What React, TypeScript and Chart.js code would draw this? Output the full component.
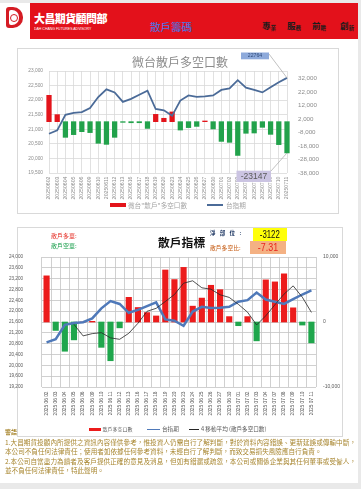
import React, { useEffect, useRef } from "react";
import { Chart, registerables } from "chart.js";
Chart.register(...registerables);

const CJK = "'Noto Sans CJK TC', 'Noto Sans CJK SC', sans-serif";
const NUM = "'Liberation Sans', 'Noto Sans CJK TC', sans-serif";

// ---------- data ----------
const dates = [
  "20250602", "20250603", "20250604", "20250605", "20250606", "20250609", "20250610", "20250611",
  "20250612", "20250613", "20250616", "20250617", "20250618", "20250619", "20250620", "20250623",
  "20250624", "20250625", "20250626", "20250627", "20250630", "20250701", "20250702", "20250703",
  "20250704", "20250707", "20250708", "20250709", "20250710", "20250711",
];
const dateLabels2 = [
  "2025 06 02", "2025 06 03", "2025 06 04", "2025 06 05", "2025 06 06", "2025 06 09", "2025 06 10", "2025 06 11",
  "2025 06 12", "2025 06 13", "2025 06 16", "2025 06 17", "2025 06 18", "2025 06 19", "2025 06 20", "2025 06 23",
  "2025 06 24", "2025 06 25", "2025 06 26", "2025 06 27", "2025 06 30", "2025 07 01", "2025 07 02", "2025 07 03",
  "2025 07 04", "2025 07 07", "2025 07 08", "2025 07 09", "2025 07 10", "2025 07 11",
];
// 台指期
const indexPrices = [
  20846, 20962, 21497, 21566, 21591, 21731, 22105, 22371, 22266, 21940, 22045, 22185, 22325, 21696, 21650,
  21462, 21986, 22161, 22115, 22126, 22161, 22350, 22406, 22686, 22430, 22350, 22266, 22441, 22615, 22764,
];
// 微台"散戶"多空口數
const microRetailNet = [
  19500, 5200, -11600, -9600, -7400, -8100, -16000, -16800, -11600, -500, -800, -800, -5000, 5400, 2500,
  7200, -6200, -4400, -3500, 500, -5400, -14600, -15300, -25000, -8600, -8400, -4200, -9400, -17000, -23147,
];
// 散戶多空口數
const retailNet = [
  7100, -1300, -4500, -2750, 0, 100, -3900, -5960, -900, 3800, 2230, 1450, 930, 8000, 6530,
  8400, 2440, 3680, 5650, 4970, 830, -570, 830, -2900, 6480, 6170, 7410, 2180, -470, -3210,
];
// 4 移動平均 (散戶多空口數)
const retailNetMA4 = [
  null, null, null, -362, -2138, -1788, -1638, -2440, -2665, -1740, -208, 1645, 2103, 3153, 4228,
  5965, 6343, 5263, 5043, 4185, 3783, 2720, 1515, -453, 960, 2645, 4290, 5560, 3823, 1478,
];
const rightTicks1 = [-38000, -28000, -18000, -8000, 2000, 12000, 22000, 32000];
const netPosition = "-3122";
const longShortRatio = "-7.31";

const RED1 = "#e3141b";
const GREEN1 = "#22a24b";
const RED2 = "#ec1b1b";
const GREEN2 = "#1fa64c";
const BLUE1 = "#4b6b98";
const BLUE2 = "#4f79b9";

type TProps = {
  x: number; cy: number; fs: number; color: string; text: string;
  family?: string; weight?: number | string; ls?: number; w?: number; justify?: boolean;
};
function T({ x, cy, fs, color, text, family = CJK, weight = 400, ls = 0, w, justify }: TProps) {
  const h = fs * 1.3;
  return (
    <div
      style={{
        position: "absolute", left: x, top: cy - h / 2, height: h, lineHeight: h + "px",
        fontSize: fs, color, fontFamily: family, fontWeight: weight as any, whiteSpace: "nowrap",
        letterSpacing: ls, width: w, textAlign: justify ? "justify" : "left",
        textAlignLast: justify ? "justify" : undefined,
      } as any}
    >
      {text}
    </div>
  );
}

export default function App() {
  const c1 = useRef<HTMLCanvasElement>(null);
  const c2 = useRef<HTMLCanvasElement>(null);

  useEffect(() => {
    Chart.defaults.font.family = NUM;
    const last = dates.length - 1;

    const annot1 = {
      id: "annot1",
      afterDraw(chart: any) {
        const ctx = chart.ctx;
        const x = chart.scales.x.getPixelForValue(last);
        const yTop = chart.scales.yL.getPixelForValue(indexPrices[last]);
        const yBar = chart.scales.yR.getPixelForValue(microRetailNet[last]);
        ctx.save();
        ctx.strokeStyle = "#a6a6a6";
        ctx.lineWidth = 0.7;
        ctx.beginPath(); ctx.moveTo(252, 6); ctx.lineTo(x, yTop); ctx.stroke();
        ctx.beginPath(); ctx.moveTo(254, 123); ctx.lineTo(x, yBar); ctx.stroke();
        ctx.fillStyle = "#8eaadb";
        ctx.fillRect(224, 4.5, 28, 6.8);
        ctx.fillStyle = "#2f4a7a";
        ctx.font = "5.2px " + NUM;
        ctx.textAlign = "center"; ctx.textBaseline = "middle";
        ctx.fillText(String(indexPrices[last]), 238, 8);
        ctx.fillStyle = "#cbc4e2";
        ctx.fillRect(219.5, 122.7, 34.5, 11.3);
        ctx.fillStyle = "#595959";
        ctx.font = "8.5px " + NUM;
        ctx.fillText(String(microRetailNet[last]), 237, 128.8);
        ctx.restore();
      },
    };

    const ch1 = new Chart(c1.current!, {
      type: "bar",
      data: {
        labels: dates,
        datasets: [
          {
            type: "line", label: "台指期", data: indexPrices, yAxisID: "yL",
            borderColor: BLUE1, borderWidth: 1.8, pointRadius: 0, tension: 0, order: 0,
          } as any,
          {
            type: "bar", label: '微台"散戶"多空口數', data: microRetailNet, yAxisID: "yR",
            backgroundColor: microRetailNet.map((v) => (v >= 0 ? RED1 : GREEN1)),
            barThickness: 4.6, clip: false, order: 1,
          } as any,
        ],
      },
      options: {
        responsive: false,
        animation: false,
        layout: { padding: { top: 23, left: 0, right: 0, bottom: 0 } },
        plugins: { legend: { display: false }, tooltip: { enabled: false }, title: { display: false } },
        scales: {
          x: {
            offset: false,
            grid: { offset: false, color: "#d9d9d9", lineWidth: 0.8, drawTicks: false },
            border: { display: false },
            ticks: { autoSkip: false, minRotation: 90, maxRotation: 90, font: { size: 5.2 }, color: "#8c8c8c", padding: 3.5 },
            afterFit: (s: any) => { s.height = 40; },
          },
          yL: {
            position: "left", min: 19500, max: 23000,
            ticks: { stepSize: 500, font: { size: 4.8 }, color: "#8c8c8c", padding: 6 },
            grid: { color: "#d9d9d9", lineWidth: 0.8, drawTicks: false },
            border: { display: false },
            afterFit: (s: any) => { s.width = 32; },
          },
          yR: {
            position: "right", min: -38000, max: 37500,
            grid: { display: false, drawTicks: false },
            border: { display: false },
            ticks: { font: { size: 6.2 }, color: "#8c8c8c", padding: 11 },
            afterBuildTicks: (s: any) => { s.ticks = rightTicks1.map((v) => ({ value: v })); },
            afterFit: (s: any) => { s.width = 51; },
          },
        } as any,
      },
      plugins: [annot1],
    });

    const ch2 = new Chart(c2.current!, {
      type: "bar",
      data: {
        labels: dateLabels2,
        datasets: [
          {
            type: "line", label: "4 移動平均 (散戶多空口數)", data: retailNetMA4, yAxisID: "yR",
            borderColor: "#262626", borderWidth: 0.8, pointRadius: 0, tension: 0, order: -1,
          } as any,
          {
            type: "line", label: "台指期", data: indexPrices, yAxisID: "yL",
            borderColor: BLUE2, borderWidth: 2.5, pointRadius: 0, tension: 0, order: 0,
          } as any,
          {
            type: "bar", label: "散戶多空口數", data: retailNet, yAxisID: "yR",
            backgroundColor: retailNet.map((v) => (v >= 0 ? RED2 : GREEN2)),
            barThickness: 5.5, order: 2,
          } as any,
        ],
      },
      options: {
        responsive: false,
        animation: false,
        layout: { padding: { top: 30, left: 0, right: 0, bottom: 0 } },
        plugins: { legend: { display: false }, tooltip: { enabled: false }, title: { display: false } },
        scales: {
          x: {
            offset: true,
            grid: { offset: true, color: "#c4c4c4", lineWidth: 0.8, drawTicks: false },
            border: { display: false },
            ticks: { autoSkip: false, minRotation: 90, maxRotation: 90, font: { size: 4.8 }, color: "#595959", padding: 4.5 },
            afterFit: (s: any) => { s.height = 49; },
          },
          yL: {
            position: "left", min: 19200, max: 24000,
            ticks: { stepSize: 400, font: { size: 4.6 }, color: "#595959", padding: 19 },
            grid: { color: "#c4c4c4", lineWidth: 0.8, drawTicks: false },
            border: { display: false },
            afterFit: (s: any) => { s.width = 42; },
          },
          yR: {
            position: "right", min: -10000, max: 10000,
            ticks: { stepSize: 10000, font: { size: 5 }, color: "#595959", padding: 7 },
            grid: { display: false, drawTicks: false },
            border: { display: false },
            afterFit: (s: any) => { s.width = 26; },
          },
        } as any,
      },
    });

    return () => {
      ch1.destroy();
      ch2.destroy();
    };
  }, []);

  const gold = "#a8862f";

  return (
    <div style={{ position: "absolute", left: 0, top: 0, width: 361, height: 489, background: "#e9e9e9", overflow: "hidden" }}>
      <div style={{ position: "absolute", left: 0, top: 3, width: 358, height: 480, background: "#ffffff" }} />

      {/* header */}
      <div style={{ position: "absolute", left: 6, top: 7, width: 17, height: 21, background: "#d51c24", borderRadius: "3px 10px 10px 3px" }}>
        <div style={{ position: "absolute", left: 3, top: 3, width: 10, height: 15, background: "#fff", borderRadius: "2px 7px 7px 2px" }}>
          <div style={{ position: "absolute", left: 1, top: 3.5, width: 6, height: 6, border: "1.2px solid #d51c24", borderRadius: "50%" }} />
        </div>
      </div>
      <div style={{ position: "absolute", left: 30, top: 3, width: 328, height: 36, background: "#e3111b" }} />
      <T x={34} cy={18.5} fs={11} color="#ffffff" text="大昌期貨顧問部" weight={900} ls={-0.6} />
      <div style={{ position: "absolute", left: 34, top: 26.5, fontSize: 7, color: "#fff", fontFamily: NUM, whiteSpace: "nowrap", transform: "scale(0.5)", transformOrigin: "0 0", lineHeight: "7px" }}>
        DAH CHANG FUTURES ADVISORY
      </div>
      <T x={150} cy={27} fs={10.5} color="#5a6bd6" text="散戶籌碼" weight={500} />
      {[
        ["專", "業", 262],
        ["服", "務", 287],
        ["前", "瞻", 312],
        ["創", "新", 340],
      ].map(([a, b, x]) => (
        <React.Fragment key={a as string}>
          <T x={x as number} cy={26} fs={8.5} color="#1c1c1c" text={a as string} weight={700} />
          <T x={(x as number) + 8.5} cy={29} fs={5.5} color="#1c1c1c" text={b as string} weight={700} />
        </React.Fragment>
      ))}

      {/* chart 1 */}
      <div style={{ position: "absolute", left: 17, top: 48, width: 320, height: 164, border: "1px solid #d9d9d9" }} />
      <canvas ref={c1} width={321} height={165} style={{ position: "absolute", left: 17, top: 48, width: 321, height: 165 }} />
      <div style={{ position: "absolute", left: 80, width: 200, top: 55, height: 14, lineHeight: "14px", textAlign: "center", fontSize: 12, color: "#8c8c8c", fontFamily: CJK }}>
        微台散戶多空口數
      </div>
      <div style={{ position: "absolute", left: 110, top: 203.3, width: 16, height: 3.4, background: RED1 }} />
      <T x={128} cy={205} fs={6.6} color="#a6a6a6" text={'微台"散戶"多空口數'} />
      <div style={{ position: "absolute", left: 207, top: 204, width: 16, height: 1.5, background: BLUE1 }} />
      <T x={226} cy={205} fs={6.6} color="#a6a6a6" text="台指期" />

      {/* chart 2 */}
      <div style={{ position: "absolute", left: 17, top: 227, width: 324, height: 208, border: "1px solid #d9d9d9" }} />
      <canvas ref={c2} width={342} height={209} style={{ position: "absolute", left: 0, top: 227, width: 342, height: 209 }} />
      <T x={51} cy={236} fs={6} color="#e53027" text="散戶多單:" />
      <T x={51} cy={246} fs={6} color="#1fa150" text="散戶空單:" />
      <T x={158} cy={241.5} fs={11.8} color="#111111" text="散戶指標" weight={600} />
      <T x={210} cy={233.5} fs={5.5} color="#1f3864" text="淨部位:" weight={700} ls={4.3} />
      <T x={210} cy={247.5} fs={5.8} color="#c55a11" text="散戶多空比:" />
      <div style={{ position: "absolute", left: 253, top: 227.5, width: 34, height: 13, background: "#ffff0a", display: "flex", alignItems: "center", justifyContent: "center" }}>
        <span style={{ fontSize: 10, fontFamily: NUM, color: "#111", transform: "scaleX(0.78)", display: "inline-block", lineHeight: "13px" }}>{netPosition}</span>
      </div>
      <div style={{ position: "absolute", left: 250, top: 241, width: 36, height: 13, background: "#f4b183", display: "flex", alignItems: "center", justifyContent: "center" }}>
        <span style={{ fontSize: 10.5, fontFamily: NUM, color: "#e8251c", transform: "scaleX(0.85)", display: "inline-block", lineHeight: "13px" }}>{longShortRatio}</span>
      </div>
      <div style={{ position: "absolute", left: 89, top: 427.7, width: 12, height: 3.5, background: RED2 }} />
      <T x={102.5} cy={429.5} fs={5} color="#595959" text="散戶多空口數" />
      <div style={{ position: "absolute", left: 147, top: 428.5, width: 13, height: 1.8, background: BLUE2 }} />
      <T x={162} cy={429.5} fs={5.6} color="#595959" text="台指期" />
      <div style={{ position: "absolute", left: 189, top: 429, width: 10, height: 0.8, background: "#262626" }} />
      <T x={201} cy={429.5} fs={5.6} color="#595959" text="4 移動平均 (散戶多空口數)" />

      {/* disclaimer */}
      <T x={5} cy={432} fs={6} color={gold} text="警語" weight={700} />
      <T x={5} cy={442.5} fs={6.6} color={gold} w={351} justify text="1.大昌期貨投顧內所提供之資訊內容僅供參考，惟投資人仍需自行了解判斷，對於資料內容錯誤、更新延誤或傳輸中斷，" />
      <T x={5} cy={451.5} fs={6.6} color={gold} text="本公司不負任何法律責任；使用者如依據任何參考資料，未經自行了解判斷，而致交易損失風險應自行負責。" />
      <T x={5} cy={461.5} fs={6.6} color={gold} w={351} justify text="2.本公司自當盡力為讀者及客戶提供正確的意見及消息，但如有錯漏或疏忽，本公司或關係企業與其任何董事或受僱人，" />
      <T x={5} cy={470} fs={6.6} color={gold} text="並不負任何法律責任，特此聲明。" />
    </div>
  );
}
